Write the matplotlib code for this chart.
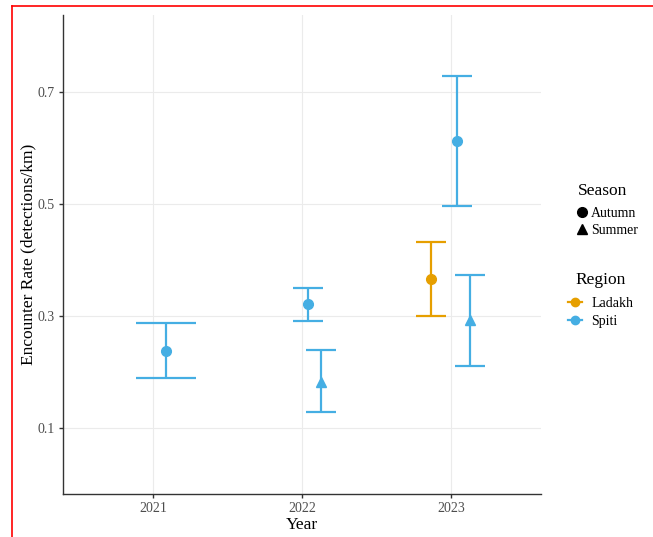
import matplotlib
matplotlib.use("Agg")
import matplotlib.pyplot as plt
from matplotlib.lines import Line2D

plt.rcParams['font.family'] = ['Liberation Serif', 'DejaVu Serif']

# data
years = ["2021", "2022", "2023"]
point_year = [0, 1, 1, 2, 2, 2]
point_region = ["Spiti", "Spiti", "Spiti", "Ladakh", "Spiti", "Spiti"]
point_season = ["Autumn", "Autumn", "Summer", "Autumn", "Autumn", "Summer"]
rate = [0.238, 0.321, 0.183, 0.366, 0.613, 0.293]
lower = [0.190, 0.291, 0.128, 0.300, 0.497, 0.211]
upper = [0.287, 0.351, 0.239, 0.432, 0.729, 0.374]

# dodge offsets and cap half widths (x units), as placed in the original
dodge = [0.087, 0.04, 0.127, -0.134, 0.04, 0.127]
cap_half = [0.2, 0.1, 0.1, 0.1, 0.1, 0.1]

region_colors = {"Ladakh": "#E69F00", "Spiti": "#45AEE3"}
season_markers = {"Autumn": "o", "Summer": "^"}

fig = plt.figure(figsize=(6.53, 5.37), dpi=100)
ax = fig.add_axes([0.097, 0.080, 0.731, 0.892])

for i in range(len(rate)):
    x = point_year[i] + dodge[i]
    c = region_colors[point_region[i]]
    ax.vlines(x, lower[i], upper[i], color=c, lw=1.6, zorder=3)
    ax.hlines([lower[i], upper[i]], x - cap_half[i], x + cap_half[i], color=c, lw=1.6, zorder=3)
    ax.plot(x, rate[i], marker=season_markers[point_season[i]], color=c,
            markersize=7, linestyle='none', zorder=4)

ax.set_xlim(-0.6, 2.6)
ax.set_ylim(-0.018, 0.838)
ax.set_xticks(range(len(years)))
ax.set_xticklabels(years)
ax.set_yticks([0.1, 0.3, 0.5, 0.7])
ax.set_yticklabels(["0.1", "0.3", "0.5", "0.7"])
ax.grid(True, color="#EBEBEB", lw=0.8)
ax.set_axisbelow(True)
for s in ["top", "right"]:
    ax.spines[s].set_visible(False)
for s in ["left", "bottom"]:
    ax.spines[s].set_color("#333333")
    ax.spines[s].set_linewidth(1.0)
ax.tick_params(colors="#333333", labelcolor="#4D4D4D", labelsize=10, length=3, width=1, pad=3)
ax.set_xlabel("Year", fontsize=12.5, labelpad=1)
ax.set_ylabel("Encounter Rate (detections/km)", fontsize=12.5)
ax.yaxis.set_label_coords(-0.057, 0.5)

# legends (fig.legend keeps both, no add_artist needed)
season_handles = [Line2D([], [], marker=season_markers[k], color="black", linestyle='none',
                         markersize=7) for k in season_markers]
leg1 = fig.legend(season_handles, list(season_markers), title="Season", frameon=False,
                  loc="center", bbox_to_anchor=(0.931, 0.609), fontsize=10, alignment="left",
                  title_fontsize=12.5, handlelength=0.6, handletextpad=0.35, labelspacing=0.3)
leg1._legend_box.sep = 6
region_handles = [Line2D([], [], marker='o', color=region_colors[k], lw=1.6, markersize=6)
                  for k in region_colors]
leg2 = fig.legend(region_handles, list(region_colors), title="Region", frameon=False,
                  loc="center", bbox_to_anchor=(0.920, 0.441), fontsize=10,
                  title_fontsize=12.5, handlelength=1.0, handletextpad=0.7, labelspacing=0.35)
leg2._legend_box.sep = 6.5

# red frame lines seen at the left and top of the image
fig.add_artist(Line2D([12.5 / 653, 12.5 / 653], [0, 1 - 5.5 / 537], color="red", lw=1.2))
fig.add_artist(Line2D([12.5 / 653, 1], [1 - 5.5 / 537, 1 - 5.5 / 537], color="red", lw=1.2))

fig.savefig("out.png", dpi=100)
